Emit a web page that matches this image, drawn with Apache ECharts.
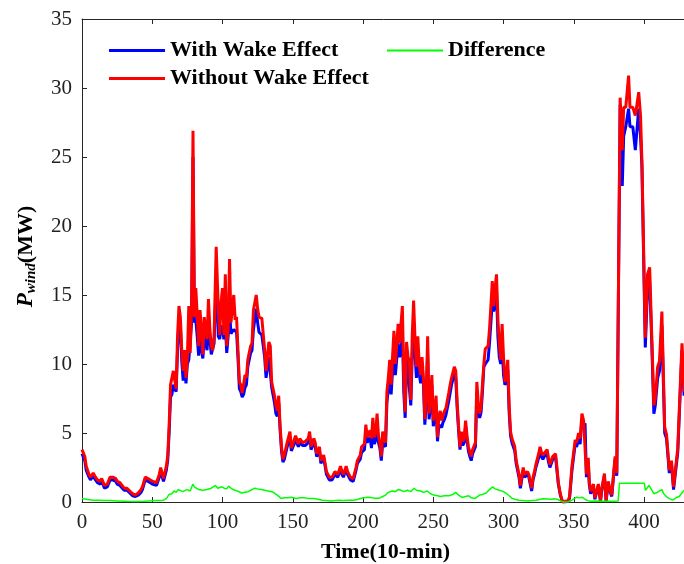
<!DOCTYPE html>
<html>
<head>
<meta charset="utf-8">
<script src="https://cdn.jsdelivr.net/npm/echarts@6/dist/echarts.min.js"></script>
<style>
html,body{margin:0;padding:0;background:#fff;}
#chart{width:684px;height:564px;}
</style>
</head>
<body>
<div id="chart"></div>
<script>
// ---- data ----
const timeX = [0,1,2,3,5,6,8,9,11,13,14,16,18,20,22,24,25,27,28,30,32,34,36,38,40,42,43,45,47,48,50,53,55,56,58,60,61,62,63,64,65,66,67,68,69,70,71,72,73,74,75,76,77,78,79,80,81,82,83,84,85,86,87,88,89,90,91,92,93,94,95.5,96.5,97,98,99,100,101,102,103,104,105,106,107,108,109,110,111,112,113,114,115,116,117,118,120,121,122,124,125,126,128,129,130,131,133,134,135,137,138,139,140,141,142,143,144,146,148,149,151,152,154,155,157,159,161,162,163,165,166,167,169,170,172,173,174,176,178,180,182,184,185,186,188,189,191,193,195,196,198,199,201,202,203,205,206,207,208,209,210,211,212,213,214,216,217,218,219,220,221,222,223,224,225,226,227,228,229,230,231,232,233,234,235,236,237,238,239,240,241,242,243,244,245,246,247,248,249,250,251,252,253,254,255,256,257,258,259,261,262,263,265,266,267,268,269,270,271,272,273,274,275,276,277,278,280,281,282,283,284,285,286,287,288,289,290,291,292,293,294,295,296,297,298,299,300,301,302,303,304,305,306,308,309,311,312,314,315,317,318,320,321,322,323,325,326,327,328,329,331,332,333,335,337,338,339,340.4,342,344,346,347,348.7,350,351,352,353.4,354.5,355.8,357,358,359,360.3,361,362,363,364,365,366,367.5,369,370,371.8,373,374.5,376,377,378,379.4,380.6,382,383,383.8,384.5,385.5,387,389,390,392,393.8,396.2,397.5,398.5,400.9,402.5,404,405.5,407,408,409.7,411,412.7,414.7,416,418,419.5,421,424,427,428.5];
const withoutWake = [3.8,3.7,3.3,2.6,2.0,1.8,2.1,1.9,1.6,1.5,1.7,1.2,1.3,1.8,1.8,1.7,1.5,1.4,1.5,1.0,1.0,0.8,0.6,0.5,0.65,0.9,1.1,1.8,1.7,1.6,1.5,1.4,2.0,2.5,1.7,2.6,3.3,5.5,8.5,8.6,9.5,9.4,8.2,12.0,14.2,13.4,11.0,9.5,11.0,9.0,10.5,14.2,10.8,14.2,26.9,13.4,15.5,13.5,11.3,13.9,12.5,10.7,13.4,12.5,11.8,14.7,12.5,11.3,11.0,12.0,18.5,15.5,14.0,12.1,14.5,15.5,12.1,16.5,11.3,12.5,17.6,13.0,12.9,15.0,13.2,13.4,11.0,8.7,8.5,7.9,8.5,9.2,9.0,10.3,11.3,11.5,13.9,15.0,14.0,13.4,13.3,13.2,11.0,9.5,11.6,11.3,8.7,7.7,7.0,6.6,7.7,5.5,4.0,3.1,3.4,4.3,5.1,3.9,4.5,4.8,4.2,4.6,4.3,4.4,4.6,5.1,4.0,4.6,4.3,3.5,4.0,3.0,3.4,2.8,2.2,1.8,1.8,2.2,2.0,2.6,2.2,2.0,2.6,2.2,1.8,1.7,2.5,3.0,3.4,4.0,4.2,5.6,4.7,5.2,4.6,6.1,4.7,5.0,6.4,4.8,4.2,3.3,5.1,4.3,8.0,9.0,10.3,8.5,10.5,12.4,10.0,10.0,12.9,11.5,11.6,14.2,9.0,6.5,11.6,10.5,10.3,7.4,12.0,14.6,11.8,9.8,12.0,10.0,9.2,10.5,9.0,6.0,8.0,12.0,6.4,7.5,9.2,5.9,6.5,7.7,4.7,6.2,6.6,5.9,6.3,6.6,6.8,7.9,8.5,9.0,9.8,9.5,7.2,5.5,4.0,5.1,4.4,4.6,5.9,4.8,4.0,3.6,3.3,3.8,4.3,8.7,7.2,6.4,6.9,8.5,10.0,11.1,11.0,11.3,12.5,14.2,16.0,14.2,15.5,16.5,13.2,11.5,10.3,12.9,10.5,8.7,9.2,10.3,7.0,5.1,4.6,4.0,3.0,2.0,1.2,2.5,2.0,2.2,2.0,1.0,1.8,2.2,2.7,3.5,4.0,3.6,3.4,3.5,3.8,3.2,2.7,3.3,3.5,2.5,1.4,0.6,0.0,0.05,0.1,0.4,2.6,2.5,4.5,4.3,5.0,4.6,6.4,5.9,6.0,2.0,3.2,1.5,0.8,1.0,1.3,0.3,0.4,1.3,0.1,1.0,2.06,0.1,1.5,0.8,0.5,0.4,3.3,2.1,2.0,29.3,27.0,25.5,28.6,28.6,30.9,28.6,28.6,28.0,29.7,28.0,24.7,11.9,16.5,17.0,12.0,7.0,7.5,9.8,10.2,13.8,5.4,4.9,2.3,3.0,1.1,3.9,11.5,8.0];
const withWake = [3.5,3.4,3.0,2.3,1.8,1.6,1.9,1.7,1.4,1.3,1.5,1.0,1.1,1.6,1.6,1.5,1.3,1.2,1.3,0.85,0.85,0.65,0.45,0.4,0.5,0.7,0.9,1.6,1.5,1.4,1.3,1.2,1.8,2.2,1.5,2.3,3.0,5.0,7.6,7.8,8.5,8.2,8.0,11.0,13.0,12.8,10.2,8.8,10.3,8.6,10.0,10.3,10.2,13.0,25.0,13.0,13.2,12.0,10.6,13.0,11.0,10.4,12.0,11.5,11.0,12.8,11.8,10.7,10.6,11.5,16.0,14.0,12.0,11.8,12.8,12.5,11.8,13.0,10.8,12.0,14.0,12.2,12.3,12.5,12.4,12.3,10.5,8.2,8.0,7.6,7.8,8.3,8.5,9.8,10.8,11.0,12.5,14.0,13.0,12.3,12.1,12.0,10.5,9.0,10.5,10.6,8.3,7.2,6.4,6.2,7.2,5.2,3.7,2.9,3.1,4.0,4.7,3.7,4.2,4.5,4.0,4.3,4.1,4.1,4.3,4.8,3.8,4.3,4.0,3.3,3.7,2.8,3.2,2.6,2.0,1.6,1.6,2.0,1.8,2.4,2.0,1.8,2.4,2.0,1.6,1.5,2.3,2.8,3.1,3.6,3.8,4.9,4.3,4.7,3.9,5.4,4.2,4.5,5.5,4.3,3.9,3.0,4.3,4.0,7.2,8.2,9.0,7.8,9.5,10.5,9.2,9.3,11.5,10.5,10.8,12.5,8.0,6.1,10.3,9.5,9.4,7.0,10.5,13.0,10.8,9.0,11.0,9.3,8.6,9.5,8.5,5.6,7.3,10.8,6.0,6.8,8.5,5.5,6.0,7.0,4.4,5.6,5.7,5.4,5.8,6.0,6.3,7.3,7.9,8.5,9.3,9.0,6.8,5.2,3.8,4.7,4.1,4.3,5.5,4.5,3.7,3.3,3.0,3.5,4.0,8.0,6.5,6.1,6.5,8.0,9.8,10.0,10.0,10.3,11.5,13.0,14.5,13.8,14.5,15.3,12.0,10.5,10.0,11.5,9.2,8.5,8.7,9.6,6.5,4.8,4.3,3.7,2.8,1.8,1.0,2.3,1.8,2.0,1.8,0.8,1.6,2.0,2.5,3.2,3.7,3.3,3.1,3.3,3.5,2.9,2.5,3.1,3.3,2.3,1.3,0.5,0.0,0.0,0.05,0.3,2.3,2.2,4.2,4.0,4.6,4.2,6.0,5.5,5.7,1.8,2.9,1.3,0.6,0.9,1.1,0.2,0.3,1.2,0.05,0.9,1.9,0.05,1.4,0.7,0.4,0.3,3.1,1.9,1.8,28.8,24.0,22.9,26.5,27.2,28.5,27.2,27.2,25.5,28.5,26.5,24.3,11.2,15.5,16.0,11.5,6.4,7.0,9.0,9.5,12.8,5.0,4.6,2.1,2.8,0.9,3.6,11.0,7.7];
const diffX = [0,2,4,8,12,16,20,25,31,38,44,48,52,56,58,60,62,64,65.5,67,68.6,70,71.7,73,74.8,76,77,78.9,80,81,83,84.2,86,87.3,89,90.4,92,93,95,96.6,98,99.5,101.2,103,104.3,106,107.5,109,110.6,112,113.7,116,118.3,120,123,125,127.6,130,132.3,135,137,139,141.6,144,146.3,149,152.5,155,158.7,161,164.9,168,171.1,174,177.3,180,183.5,186,189.8,193,196,198,200.6,203,205.3,208,211.5,214,216.1,218,220.8,223,225,227,229,231.7,234,236.3,238,241,243,245.7,248,250.3,253,255,258,261.2,264,265.8,268,270.5,273,275.2,277,279.8,282.9,285,287.6,290,292.2,294,295.3,297,298.4,300,301.6,304,306.2,308,310.9,314,317.1,320,323.3,326,328,331,334.2,336,338.8,341,343,346,349,352,354,356,358,360,362,366,370,374,379,381.6,382.5,390,395,400.2,401,403.5,405,407,409.5,411,412.7,414,416.4,418,420,421.5,423.5,425,428.5];
const difference = [0.26,0.22,0.18,0.13,0.12,0.1,0.1,0.08,0.05,0.04,0.05,0.08,0.1,0.1,0.13,0.25,0.55,0.6,0.8,0.7,0.9,0.8,0.75,0.85,0.9,0.95,0.8,1.3,1.1,1.0,0.9,0.95,0.85,0.95,0.9,0.9,1.0,0.95,1.2,1.0,0.95,1.1,1.0,0.95,1.15,1.0,0.9,0.85,0.8,0.7,0.65,0.7,0.75,0.85,1.0,0.95,0.9,0.85,0.8,0.75,0.65,0.5,0.26,0.3,0.3,0.35,0.26,0.3,0.3,0.25,0.25,0.2,0.13,0.1,0.08,0.1,0.13,0.1,0.13,0.12,0.18,0.25,0.3,0.35,0.33,0.28,0.28,0.4,0.5,0.7,0.8,0.75,0.9,0.85,0.75,0.85,0.75,1.0,0.85,0.8,0.7,0.8,0.6,0.5,0.45,0.4,0.45,0.45,0.55,0.7,0.5,0.33,0.4,0.45,0.3,0.26,0.5,0.55,0.65,0.9,1.1,0.95,1.0,0.85,0.8,0.75,0.65,0.45,0.26,0.2,0.13,0.1,0.08,0.1,0.13,0.2,0.23,0.22,0.2,0.23,0.18,0.05,0.0,0.0,0.15,0.35,0.3,0.35,0.2,0.1,0.05,0.08,0.05,0.06,0.05,0.08,1.36,1.36,1.36,1.36,0.85,1.2,0.95,0.6,0.7,0.8,0.9,0.6,0.35,0.25,0.15,0.2,0.35,0.4,0.85];
const xTicks = {min: 0, max: 432, interval: 50};
const yTicks = {min: 0, max: 35, interval: 5};
const seriesNames = ['With Wake Effect', 'Without Wake Effect', 'Difference'];

// ---- chart ----
const FONT = 'Liberation Serif';
const zip = (xs, ys) => xs.map((x, i) => [x, ys[i]]);
const chart = echarts.init(document.getElementById('chart'), null, {renderer: 'canvas'});
const axisCol = '#262626';
const legendText = {fontFamily: FONT, fontWeight: 'bold', fontSize: 22, color: '#000', lineHeight: 22};
chart.setOption({
  animation: false,
  backgroundColor: '#fff',
  grid: {left: 82, top: 19, width: 607, height: 483, containLabel: false, outerBoundsMode: 'none'},
  legend: [
    {data: [seriesNames[0], seriesNames[1]], orient: 'vertical', left: 104, top: 34.5,
     icon: 'rect', itemWidth: 56, itemHeight: 3, itemGap: 6, textStyle: legendText},
    {data: [seriesNames[2]], orient: 'vertical', left: 382, top: 34.5,
     icon: 'rect', itemWidth: 56, itemHeight: 2, textStyle: legendText}
  ],
  xAxis: [
    {type: 'value', min: xTicks.min, max: xTicks.max, interval: xTicks.interval, position: 'bottom',
     name: 'Time(10-min)', nameLocation: 'middle', nameGap: 39,
     nameTextStyle: {fontFamily: FONT, fontWeight: 'bold', fontSize: 22, color: '#000'},
     axisLine: {show: true, lineStyle: {color: axisCol, width: 1}},
     axisTick: {show: true, inside: true, length: 5, lineStyle: {color: axisCol}},
     axisLabel: {fontFamily: FONT, fontSize: 21, color: '#222', margin: 10, showMaxLabel: false},
     splitLine: {show: false}},
    {type: 'value', min: xTicks.min, max: xTicks.max, interval: xTicks.interval, position: 'top',
     axisLine: {show: true, lineStyle: {color: axisCol, width: 1}},
     axisTick: {show: true, inside: true, length: 5, lineStyle: {color: axisCol}},
     axisLabel: {show: false}, splitLine: {show: false}}
  ],
  yAxis: [
    {type: 'value', min: yTicks.min, max: yTicks.max, interval: yTicks.interval,
     name: '{p|P}{s|wind}{u|(MW)}', nameLocation: 'middle', nameRotate: 90, nameGap: 43,
     nameTextStyle: {padding: [0, 0, 0, 8], rich: {
       p: {fontFamily: FONT, fontWeight: 'bold', fontStyle: 'italic', fontSize: 23, color: '#000'},
       s: {fontFamily: FONT, fontWeight: 'bold', fontStyle: 'italic', fontSize: 15, color: '#000', verticalAlign: 'bottom', padding: [10, 0, 0, 0]},
       u: {fontFamily: FONT, fontWeight: 'bold', fontSize: 22, color: '#000'}
     }},
     axisLine: {show: true, lineStyle: {color: axisCol, width: 1}},
     axisTick: {show: true, inside: true, length: 5, lineStyle: {color: axisCol}},
     axisLabel: {fontFamily: FONT, fontSize: 21, color: '#222', margin: 10},
     splitLine: {show: false}}
  ],
  series: [
    {name: seriesNames[0], type: 'line', data: zip(timeX, withWake), symbol: 'none',
     lineStyle: {color: '#0000ff', width: 3}, itemStyle: {color: '#0000ff'}, z: 2},
    {name: seriesNames[1], type: 'line', data: zip(timeX, withoutWake), symbol: 'none',
     lineStyle: {color: '#ff0000', width: 3}, itemStyle: {color: '#ff0000'}, z: 3},
    {name: seriesNames[2], type: 'line', data: zip(diffX, difference), symbol: 'none',
     lineStyle: {color: '#00ff00', width: 1.5}, itemStyle: {color: '#00ff00'}, z: 4}
  ]
});
</script>
</body>
</html>
